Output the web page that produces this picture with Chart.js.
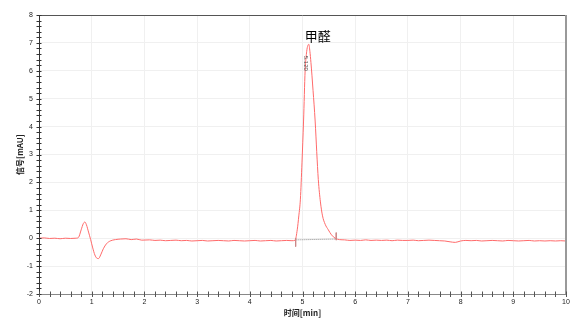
<!DOCTYPE html>
<html>
<head>
<meta charset="utf-8">
<script src="https://cdn.jsdelivr.net/npm/chart.js@4/dist/chart.umd.min.js"></script>
<style>
  html, body { margin: 0; padding: 0; background: #fff; }
  #wrap { width: 575px; height: 321px; }
</style>
</head>
<body>
<div id="wrap"><canvas id="chart"></canvas></div>
<script>
// retention time (min) and signal (mAU)
const times = [
  0, 0.1, 0.2, 0.3, 0.4, 0.5, 0.6, 0.7, 0.75, 0.8, 0.84, 0.87, 0.9, 0.94, 0.98,
  1.02, 1.06, 1.1, 1.13, 1.17, 1.22, 1.28, 1.35, 1.45, 1.55, 1.65, 1.75, 1.85, 1.95,
  2.1, 2.2, 2.3, 2.4, 2.5, 2.6, 2.7, 2.8, 2.9, 3.0, 3.1, 3.2, 3.3, 3.4, 3.5, 3.6,
  3.7, 3.8, 3.9, 4.0, 4.1, 4.2, 4.3, 4.4, 4.5, 4.6, 4.7, 4.8, 4.86,
  4.9, 4.93, 4.96, 4.99, 5.02, 5.05, 5.08, 5.1, 5.12, 5.14, 5.16, 5.2, 5.24, 5.27,
  5.3, 5.34, 5.38, 5.43, 5.49, 5.55, 5.62, 5.7, 5.8, 5.9, 6.0, 6.1, 6.2, 6.3, 6.4,
  6.5, 6.6, 6.7, 6.8, 6.9, 7.0, 7.1, 7.2, 7.3, 7.4, 7.5, 7.6, 7.7, 7.8, 7.9, 8.0,
  8.1, 8.2, 8.3, 8.4, 8.5, 8.6, 8.7, 8.8, 8.9, 9.0, 9.1, 9.2, 9.3, 9.4, 9.5, 9.6,
  9.7, 9.8, 9.9, 10.0
];
const signal = [
  0, 0.01, -0.01, 0.0, -0.02, 0.0, -0.01, 0.0, 0.03, 0.3, 0.52, 0.58, 0.48, 0.22, -0.05,
  -0.35, -0.6, -0.72, -0.73, -0.6, -0.38, -0.2, -0.1, -0.05, -0.03, -0.02, -0.05, -0.03, -0.07,
  -0.06, -0.08, -0.07, -0.09, -0.08, -0.07, -0.09, -0.08, -0.1, -0.09, -0.08, -0.1, -0.09, -0.08, -0.09, -0.1,
  -0.08, -0.09, -0.1, -0.09, -0.08, -0.1, -0.09, -0.08, -0.1, -0.09, -0.08, -0.09, -0.07,
  0.3, 0.8, 1.4, 2.7, 4.2, 6.0, 6.7, 6.9, 6.95, 6.7, 6.3, 5.3, 4.2, 3.1,
  2.1, 1.3, 0.8, 0.5, 0.3, 0.12, 0.0, -0.05, -0.06, -0.08, -0.07, -0.08, -0.06, -0.08, -0.07,
  -0.08, -0.07, -0.09, -0.07, -0.08, -0.08, -0.07, -0.09, -0.08, -0.07, -0.08, -0.09, -0.1, -0.13, -0.15, -0.1,
  -0.08, -0.09, -0.08, -0.1, -0.09, -0.08, -0.09, -0.1, -0.08, -0.09, -0.1, -0.09, -0.08, -0.1, -0.09, -0.1,
  -0.09, -0.1, -0.09, -0.1
];

// integration baseline and start/end markers of the peak
const baseX = [4.87, 5.64];
const baseY = [-0.06, -0.03];
const startMarkX = [4.87, 4.87];
const startMarkY = [0.0, -0.3];
const endMarkX = [5.64, 5.64];
const endMarkY = [0.2, -0.07];

const peakName = '甲醛';
const peakTime = 5.12;
const peakHeight = 6.95;
const peakRtLabel = '5.120';

const xTitle = '时间[min]';
const yTitle = '信号[mAU]';

const pts = (xs, ys) => xs.map((x, i) => ({ x: x, y: ys[i] }));

const tickFont = { family: 'Liberation Sans, Arial, sans-serif', size: 7 };

// minor ticks, borders and peak labels
const decor = {
  id: 'decor',
  afterDraw(chart) {
    const ctx = chart.ctx;
    const xs = chart.scales.x, ys = chart.scales.y;
    const a = chart.chartArea;
    ctx.save();
    ctx.lineWidth = 1;

    // top + right border
    ctx.strokeStyle = '#555';
    ctx.beginPath();
    ctx.moveTo(a.left, a.top + 0.5);
    ctx.lineTo(a.right, a.top + 0.5);
    ctx.stroke();
    ctx.strokeStyle = '#999';
    ctx.lineWidth = 2;
    ctx.beginPath();
    ctx.moveTo(a.right, a.top);
    ctx.lineTo(a.right, a.bottom);
    ctx.stroke();
    ctx.lineWidth = 1;

    // y minor ticks
    ctx.strokeStyle = '#333';
    for (let i = -10; i <= 40; i++) {
      const py = Math.round(ys.getPixelForValue(i / 5)) + 0.5;
      ctx.beginPath();
      ctx.moveTo(a.left - 2.5, py);
      ctx.lineTo(a.left + 2.5, py);
      ctx.stroke();
    }
    // x minor ticks
    ctx.strokeStyle = '#555';
    for (let i = 0; i <= 50; i++) {
      const px = Math.round(xs.getPixelForValue(i / 5)) + 0.5;
      ctx.beginPath();
      ctx.moveTo(px, a.bottom - 2.5);
      ctx.lineTo(px, a.bottom + 3);
      ctx.stroke();
    }

    // peak name
    const px = xs.getPixelForValue(peakTime);
    const py = ys.getPixelForValue(peakHeight);
    ctx.fillStyle = '#000';
    ctx.font = '13px "Noto Sans CJK SC", sans-serif';
    ctx.textAlign = 'center';
    ctx.textBaseline = 'middle';
    ctx.fillText(peakName, px + 9, py - 8);

    // retention time, rotated
    ctx.translate(px - 3, py + 19);
    ctx.rotate(Math.PI / 2);
    ctx.font = '6px "Liberation Sans", sans-serif';
    ctx.fillStyle = '#555';
    ctx.fillText(peakRtLabel, 0, 0);
    ctx.restore();
  }
};

new Chart(document.getElementById('chart'), {
  type: 'line',
  data: {
    datasets: [
      {
        label: 'signal',
        data: pts(times, signal),
        borderColor: '#ff6a6a',
        borderWidth: 1,
        pointRadius: 0,
        cubicInterpolationMode: 'monotone',
        order: 1,
      },
      {
        label: 'baseline',
        data: pts(baseX, baseY),
        borderColor: '#888',
        borderWidth: 1,
        borderDash: [1, 1],
        pointRadius: 0,
        order: 2,
      },
      {
        label: 'start',
        data: pts(startMarkX, startMarkY),
        borderColor: '#c88',
        borderWidth: 1,
        pointRadius: 0,
      },
      {
        label: 'end',
        data: pts(endMarkX, endMarkY),
        borderColor: '#c88',
        borderWidth: 1,
        pointRadius: 0,
      },
    ]
  },
  options: {
    responsive: true,
    maintainAspectRatio: false,
    animation: false,
    layout: { padding: { top: 15, right: 9, left: 0, bottom: 0 } },
    plugins: {
      legend: { display: false },
      tooltip: { enabled: false },
    },
    scales: {
      x: {
        type: 'linear',
        min: 0,
        max: 10,
        ticks: { stepSize: 1, font: tickFont, color: '#222', padding: 4, maxRotation: 0 },
        grid: { color: '#f0f0f0', drawTicks: false },
        border: { color: '#888', width: 1 },
        title: {
          display: true,
          text: xTitle,
          font: { family: '"Noto Sans CJK SC", sans-serif', size: 8, weight: 'bold' },
          color: '#222',
          padding: { top: 0, bottom: 3 },
        },
        afterFit(scale) { scale.height = 27; },
      },
      y: {
        min: -2,
        max: 8,
        ticks: { stepSize: 1, font: tickFont, color: '#222', padding: 6 },
        grid: { color: '#f0f0f0', drawTicks: false },
        border: { color: '#333', width: 1 },
        title: {
          display: true,
          text: yTitle,
          font: { family: '"Noto Sans CJK SC", sans-serif', size: 8, weight: 'bold' },
          color: '#222',
          padding: { top: 15, bottom: 0 },
        },
        afterFit(scale) { scale.width = 39; },
      },
    },
  },
  plugins: [decor],
});
</script>
</body>
</html>
